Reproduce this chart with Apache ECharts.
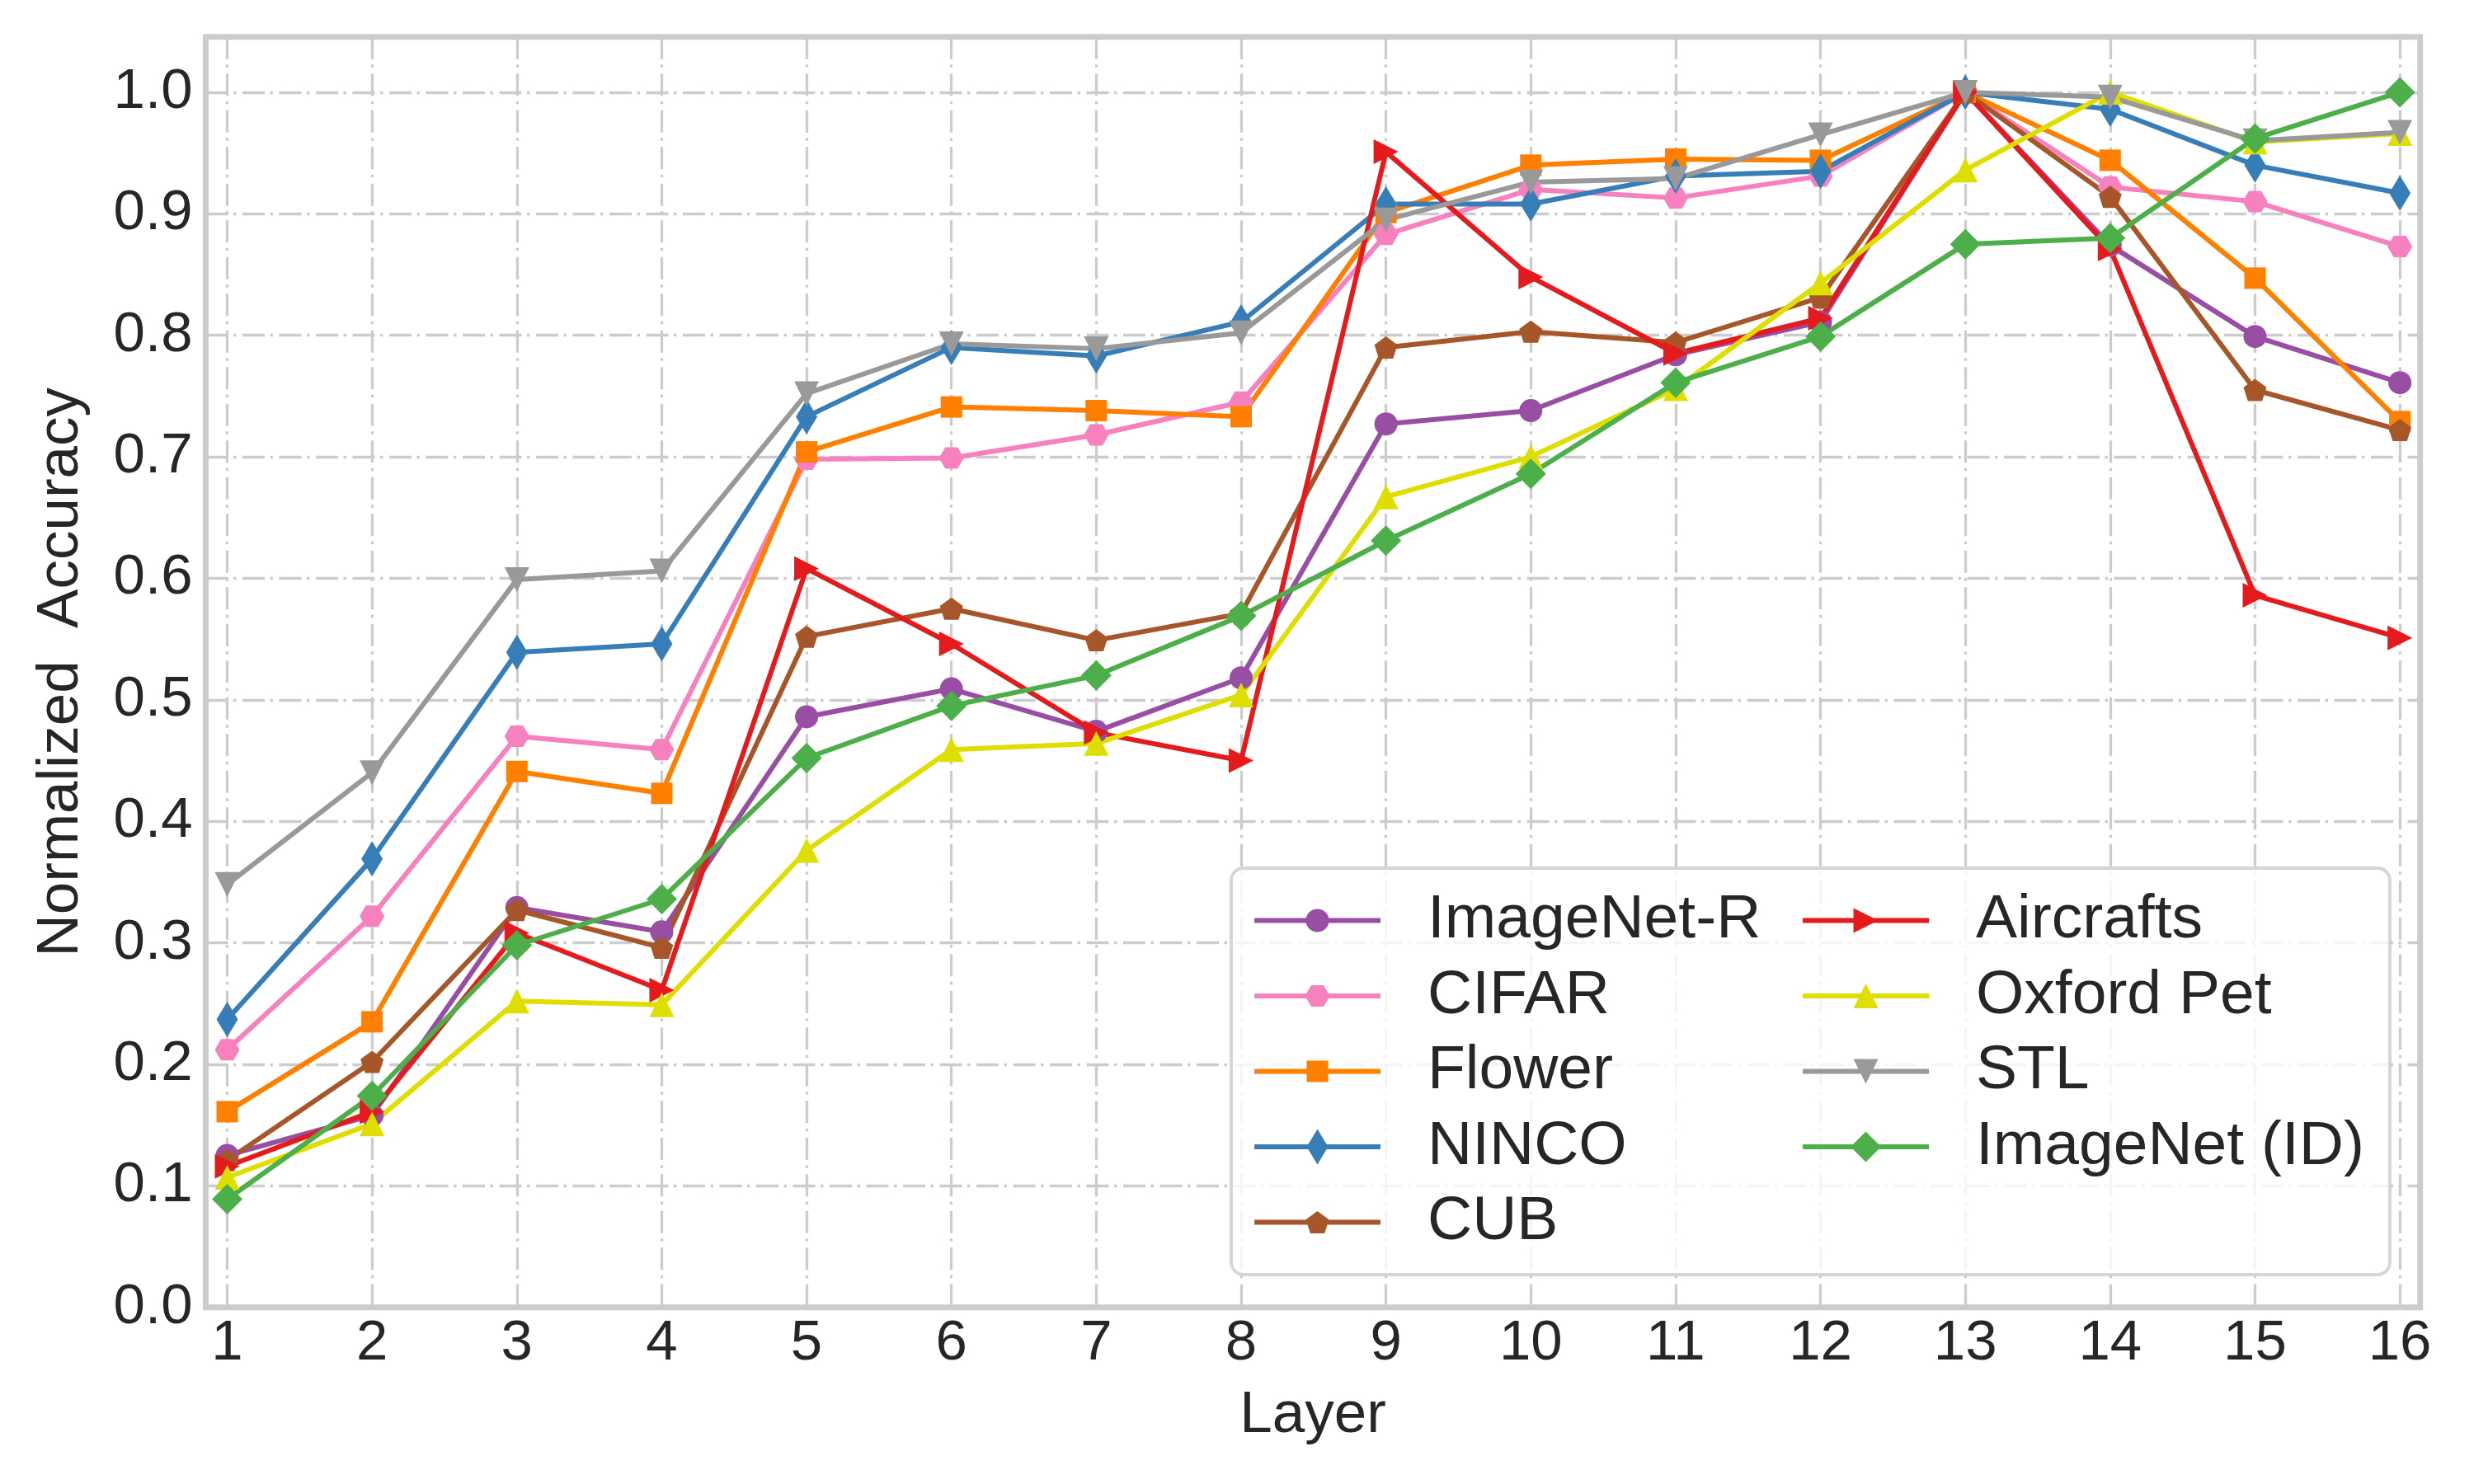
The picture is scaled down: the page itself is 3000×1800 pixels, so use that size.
<!DOCTYPE html>
<html>
<head>
<meta charset="utf-8">
<script src="https://cdn.jsdelivr.net/npm/echarts@6/dist/echarts.min.js"></script>
<style>html,body{margin:0;padding:0;background:#fff}#c{width:3000px;height:1800px}</style>
</head>
<body>
<div id="c"></div>
<script>
// ---------------- data ----------------
const layers = [1,2,3,4,5,6,7,8,9,10,11,12,13,14,15,16];
const xTickValues = [1,2,3,4,5,6,7,8,9,10,11,12,13,14,15,16];
const yTickValues = [0,0.1,0.2,0.3,0.4,0.5,0.6,0.7,0.8,0.9,1.0];
const seriesNames = ['ImageNet-R','CIFAR','Flower','NINCO','CUB','Aircrafts','Oxford Pet','STL','ImageNet (ID)'];

const imagenetR  = [0.125,0.158,0.329,0.309,0.486,0.509,0.474,0.518,0.727,0.738,0.784,0.811,1.0,0.874,0.799,0.761];
const cifar      = [0.212,0.322,0.470,0.459,0.698,0.699,0.718,0.745,0.883,0.920,0.913,0.931,1.0,0.922,0.910,0.873];
const flower     = [0.161,0.235,0.441,0.423,0.704,0.741,0.738,0.733,0.901,0.940,0.945,0.944,1.0,0.944,0.847,0.729];
const ninco      = [0.237,0.369,0.539,0.546,0.733,0.790,0.783,0.811,0.908,0.908,0.931,0.935,1.0,0.986,0.940,0.917];
const cub        = [0.121,0.202,0.327,0.296,0.552,0.575,0.549,0.571,0.790,0.803,0.794,0.831,1.0,0.914,0.755,0.722];
const aircrafts  = [0.116,0.161,0.308,0.261,0.608,0.546,0.473,0.450,0.951,0.848,0.785,0.814,1.0,0.871,0.586,0.551];
const oxfordPet  = [0.107,0.151,0.252,0.249,0.376,0.459,0.464,0.504,0.667,0.700,0.756,0.843,0.936,1.0,0.959,0.966];
const stl        = [0.348,0.440,0.599,0.606,0.752,0.793,0.789,0.802,0.895,0.926,0.929,0.965,1.0,0.996,0.960,0.967];
const imagenetID = [0.089,0.174,0.298,0.336,0.452,0.495,0.520,0.569,0.631,0.686,0.761,0.799,0.875,0.880,0.962,1.0];

const seriesValues = [imagenetR, cifar, flower, ninco, cub, aircrafts, oxfordPet, stl, imagenetID];

// ---------------- styles ----------------
const FONT = 'Liberation Sans';
const TXT = '#262626';
const SHAPES = {
  hexagon:  [[0,0.5],[0.25,0],[0.75,0],[1,0.5],[0.75,1],[0.25,1]],
  square:   [[0,0],[1,0],[1,1],[0,1]],
  diamond:  [[0.5,0],[1,0.5],[0.5,1],[0,0.5]],
  pentagon: [[0.5,0],[1,0.382],[0.809,1],[0.191,1],[0,0.382]],
  triRight: [[0,0],[1,0.5],[0,1]],
  triUp:    [[0.5,0],[1,1],[0,1]],
  triDown:  [[0,0],[1,0],[0.5,1]]
};
const styles = [
  {color:'#984ea3', shape:'circle',   size:[28,28]},
  {color:'#f781bf', shape:'hexagon',  size:[30,26]},
  {color:'#ff7f00', shape:'square',   size:[26,26]},
  {color:'#377eb8', shape:'diamond',  size:[26,43]},
  {color:'#a65628', shape:'pentagon', size:[28,27]},
  {color:'#e41a1c', shape:'triRight', size:[30,30]},
  {color:'#dede00', shape:'triUp',    size:[30,30]},
  {color:'#999999', shape:'triDown',  size:[30,30]},
  {color:'#4daf4a', shape:'diamond',  size:[37,37]}
];

function symbolOf(shape) {
  if (shape === 'circle') return 'circle';
  return 'path://' + SHAPES[shape].map((p,i)=>(i?'L':'M')+(p[0]*100)+','+(p[1]*100)).join(' ') + ' Z';
}

// legend icon: line + marker, in a W x H box (W includes text gap)
const IW = 205, IH = 43, LX = 153, CX = 76.5, CY = 21.5, LW = 6;
function legendIcon(st) {
  const w = st.size[0], h = st.size[1];
  let m;
  if (st.shape === 'circle') {
    const r = w/2;
    m = `M${CX-r},${CY} A${r},${r} 0 1 1 ${CX+r},${CY} A${r},${r} 0 1 1 ${CX-r},${CY} Z`;
  } else {
    m = SHAPES[st.shape].map((p,i)=>(i?'L':'M')+(CX-w/2+p[0]*w).toFixed(2)+','+(CY-h/2+p[1]*h).toFixed(2)).join(' ') + ' Z';
  }
  return `path://M0,0 L0,0 M${IW},${IH} L${IW},${IH} M0,${CY-LW/2} L${LX},${CY-LW/2} L${LX},${CY+LW/2} L0,${CY+LW/2} Z ` + m;
}

const series = seriesNames.map((name, i) => ({
  type: 'line',
  name: name,
  data: layers.map((x, j) => [x, seriesValues[i][j]]),
  symbol: symbolOf(styles[i].shape),
  symbolSize: styles[i].size,
  showSymbol: true,
  clip: false,
  lineStyle: {width: 6, color: styles[i].color},
  itemStyle: {color: styles[i].color, borderWidth: 0},
  emphasis: {disabled: true},
  animation: false
}));

const legendCommon = {
  orient: 'vertical',
  padding: 0,
  itemWidth: IW,
  itemHeight: IH,
  itemGap: 16.5,
  selectedMode: false,
  z: 20,
  itemStyle: {borderWidth: 0},
  textStyle: {fontFamily: FONT, fontSize: 75, color: TXT}
};

const gridLine = {color: '#cccccc', width: 3.3, type: [27, 6.5, 3.5, 7.5]};

const option = {
  animation: false,
  backgroundColor: '#ffffff',
  grid: {left: 249.5, right: 65.3, top: 44.7, bottom: 214.3, show: true,
         borderColor: '#cccccc', borderWidth: 7, backgroundColor: 'transparent'},
  xAxis: {
    type: 'value', min: 0.852, max: 16.14,
    name: 'Layer', nameLocation: 'middle', nameGap: 96,
    nameTextStyle: {fontFamily: FONT, fontSize: 71, color: TXT},
    axisLine: {show: false},
    axisTick: {show: false, customValues: xTickValues},
    axisLabel: {customValues: xTickValues, fontFamily: FONT, fontSize: 69, color: TXT, margin: 10},
    splitLine: {show: true, lineStyle: gridLine}
  },
  yAxis: {
    type: 'value', min: 0, max: 1.0456,
    name: 'Normalized  Accuracy', nameLocation: 'middle', nameGap: 140,
    nameTextStyle: {fontFamily: FONT, fontSize: 71, color: TXT},
    axisLine: {show: false},
    axisTick: {show: false, customValues: yTickValues},
    axisLabel: {customValues: yTickValues, fontFamily: FONT, fontSize: 69, color: TXT, margin: 16,
                formatter: v => v.toFixed(1)},
    splitLine: {show: true, lineStyle: gridLine}
  },
  graphic: [{
    type: 'rect', z: 10,
    shape: {x: 1493, y: 1053, width: 1405, height: 493, r: 15},
    style: {fill: 'rgba(255,255,255,0.8)', stroke: 'rgba(204,204,204,0.8)', lineWidth: 4}
  }],
  legend: [
    Object.assign({}, legendCommon, {left: 1521, top: 1079,
      data: seriesNames.slice(0,5).map((n,i)=>({name:n, icon: legendIcon(styles[i])}))}),
    Object.assign({}, legendCommon, {left: 2186, top: 1079,
      data: seriesNames.slice(5).map((n,i)=>({name:n, icon: legendIcon(styles[i+5])}))})
  ],
  series: series
};

const chart = echarts.init(document.getElementById('c'), null, {renderer: 'canvas'});
chart.setOption(option);
</script>
</body>
</html>
